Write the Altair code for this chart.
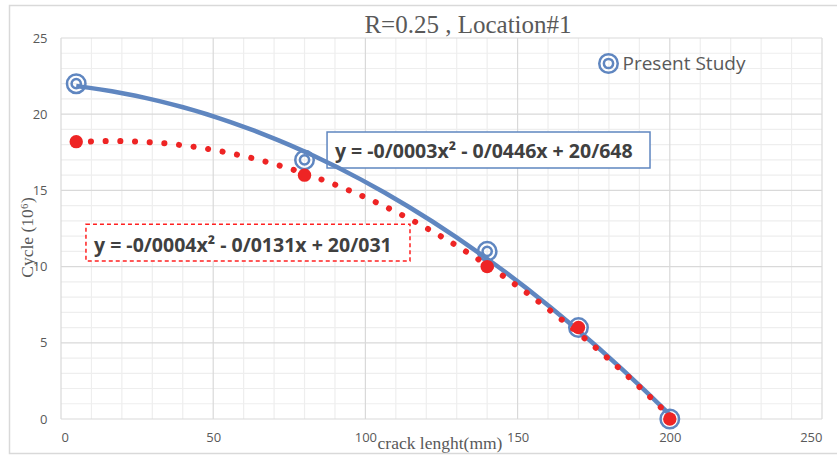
import altair as alt
import pandas as pd

# ---------------- data ----------------
crack = [5, 80, 140, 170, 200]
present_study = [22, 17, 11, 6, 0]
second_series = [18.2, 16, 10, 6, 0]
series_name = "Present Study"

x_major = [0, 50, 100, 150, 200, 250]
y_major = [0, 5, 10, 15, 20, 25]
x_minor = [v for v in range(0, 251, 10) if v % 50]
y_minor = [v for v in range(0, 26) if v % 5]

title_text = "R=0.25 , Location#1"
eq_blue = "y = -0/0003x\u00b2 - 0/0446x + 20/648"
eq_red = "y = -0/0004x\u00b2 - 0/0131x + 20/031"

# annotation anchors (data units)
blue_box = dict(x1=[87.4], x2=[193.5], y1=[18.83], y2=[16.47])
blue_txt = dict(x=[90.0], y=[17.13], t=[eq_blue])
red_box = dict(x1=[8.2], x2=[114.65], y1=[12.78], y2=[10.37])
red_txt = dict(x=[10.84], y=[10.96], t=[eq_red])

# ---------------- styles ----------------
BLUE = "#5f86c0"
RED = "#ee2424"
GRAY = "#595959"
MAJOR = "#d9d9d9"
MINOR = "#eeeeee"
RING = ("M-1,0A1,1,0,1,0,1,0A1,1,0,1,0,-1,0Z"
        "M-0.5,0A0.5,0.5,0,1,0,0.5,0A0.5,0.5,0,1,0,-0.5,0Z")

xs = alt.Scale(domain=[0, 250], nice=False, zero=False)
ys = alt.Scale(domain=[0, 25], nice=False, zero=False)

X_AXIS = alt.Axis(
    values=x_major, grid=False, domain=False, ticks=False,
    labelFont="Open Sans", labelFontSize=13, labelColor=GRAY,
    labelPadding=12, title="crack lenght(mm)",
    titleFont="Liberation Serif", titleFontSize=17.5, titleFontWeight="normal",
    titleColor=GRAY, titleX=378.5, titleY=29, titleAlign="center",
    titleBaseline="alphabetic")
Y_AXIS = alt.Axis(
    values=y_major, grid=False, domain=False, ticks=False,
    labelFont="Open Sans", labelFontSize=13, labelColor=GRAY,
    labelPadding=14, title="Cycle (10\u2076)",
    titleFont="Liberation Serif", titleFontSize=17.5, titleFontWeight="normal",
    titleColor=GRAY, titleAngle=270, titleX=-29, titleY=199,
    titleAlign="center", titleBaseline="alphabetic")


def X(f):
    return alt.X(f"{f}:Q", scale=xs, axis=X_AXIS)


def Y(f):
    return alt.Y(f"{f}:Q", scale=ys, axis=Y_AXIS)


df_blue = pd.DataFrame({"crack": crack, "cycle": present_study,
                        "series": [series_name] * len(crack)})
df_red = pd.DataFrame({"crack": crack, "cycle": second_series})
one = pd.DataFrame({"t": [title_text]})

border = alt.Chart(one).mark_rect(
    fill="transparent", stroke=MAJOR, strokeWidth=1.5).encode(
    x=alt.value(-51.5), x2=alt.value(780), y=alt.value(-32.5), y2=alt.value(415.5))

title = alt.Chart(one).mark_text(
    font="Liberation Serif", fontSize=25, color=GRAY, align="center",
    baseline="alphabetic").encode(x=alt.value(407), y=alt.value(-5), text="t:N")

gx_minor = alt.Chart(pd.DataFrame({"v": x_minor})).mark_rule(
    color=MINOR, strokeWidth=1.2).encode(x=X("v"))
gy_minor = alt.Chart(pd.DataFrame({"v": y_minor})).mark_rule(
    color=MINOR, strokeWidth=1.2).encode(y=Y("v"))
gx_major = alt.Chart(pd.DataFrame({"v": x_major})).mark_rule(
    color=MAJOR, strokeWidth=1.2).encode(x=X("v"))
gy_major = alt.Chart(pd.DataFrame({"v": y_major})).mark_rule(
    color=MAJOR, strokeWidth=1.2).encode(y=Y("v"))


def box(d, dash):
    kw = dict(fill="white", stroke=BLUE if not dash else "#ff2020", strokeWidth=1.5)
    if dash:
        kw["strokeDash"] = [4, 3]
    return alt.Chart(pd.DataFrame(d)).mark_rect(**kw).encode(
        x=X("x1"), x2="x2:Q", y=Y("y1"), y2="y2:Q")


def label(d):
    return alt.Chart(pd.DataFrame(d)).mark_text(
        align="left", baseline="alphabetic", font="Open Sans",
        fontWeight="bold", fontSize=19.5, color="#404040").encode(
        x=X("x"), y=Y("y"), text="t:N")


blue_line = alt.Chart(df_blue).transform_regression(
    "crack", "cycle", method="poly", order=2, extent=[5, 200]
).mark_line(color=BLUE, strokeWidth=4.5).encode(x=X("crack"), y=Y("cycle"))

blue_pts = alt.Chart(df_blue).mark_point(
    shape=RING, filled=False, size=342, strokeWidth=2.5, opacity=1).encode(
    x=X("crack"), y=Y("cycle"),
    color=alt.Color("series:N", scale=alt.Scale(range=[BLUE]),
                    legend=alt.Legend(
                        orient="none", legendX=537, legendY=15, title=None,
                        padding=0, labelFont="Open Sans", labelFontSize=19,
                        labelColor=GRAY, labelOffset=3.5, symbolSize=342,
                        symbolStrokeWidth=2.5, symbolType=RING)))

red_line = alt.Chart(df_red).transform_regression(
    "crack", "cycle", method="poly", order=2, extent=[5, 200]
).mark_line(color=RED, strokeWidth=6, strokeDash=[0.1, 14.6],
            strokeCap="round").encode(x=X("crack"), y=Y("cycle"))

red_pts = alt.Chart(df_red).mark_circle(color=RED, size=180, opacity=1).encode(
    x=X("crack"), y=Y("cycle"))

chart = alt.layer(
    gx_minor, gy_minor, gx_major, gy_major, border, title,
    box(blue_box, False), box(red_box, True), label(blue_txt), label(red_txt),
    blue_line, blue_pts, red_line, red_pts
).properties(
    width=761, height=381,
    padding={"left": 61, "top": 38, "right": 15, "bottom": 38},
    autosize="none",
    background="white",
).configure_view(stroke=None)

chart.save("out.html", embed_options={"renderer": "svg", "actions": False})
